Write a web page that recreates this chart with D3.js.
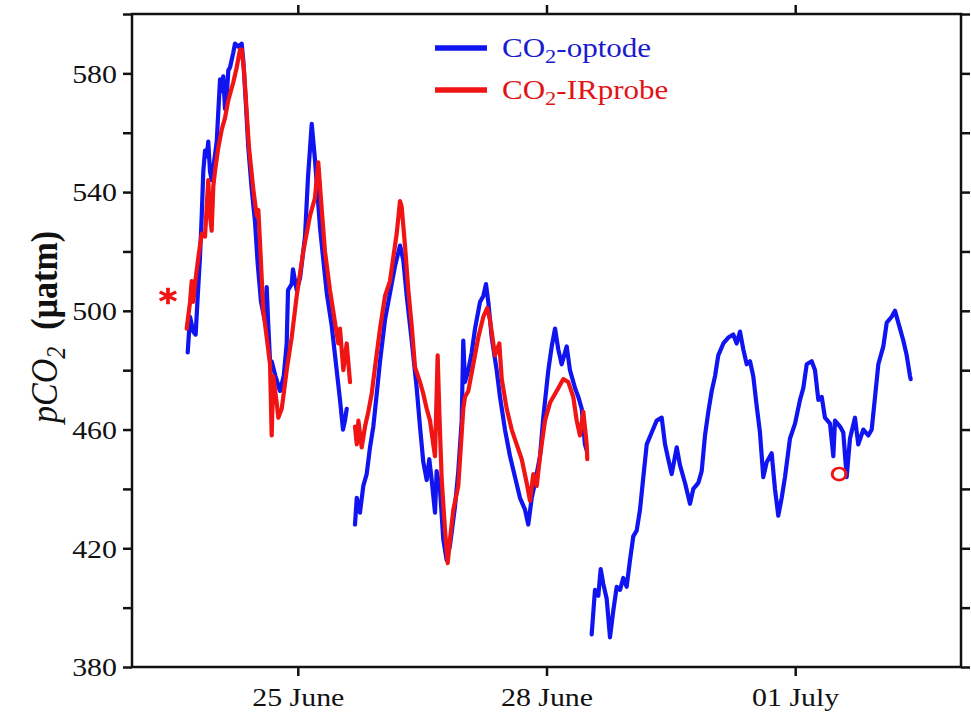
<!DOCTYPE html>
<html>
<head>
<meta charset="utf-8">
<script src="https://cdn.jsdelivr.net/npm/d3@7"></script>
<style>
  html, body { margin: 0; padding: 0; background: #fff; }
  svg { display: block; font-family: 'Liberation Serif', 'Times New Roman', serif; }
</style>
</head>
<body>
<svg id="chart" width="971" height="713"></svg>
<script>
// ---------------- DATA (day offset from 23 June 00:00 UTC, pCO2 in µatm) ----------------
const startDay = "2014-06-23";

const optodeSeg1 = [
  [0.672,486],[0.700,498],[0.739,493],[0.768,492],[0.793,505],[0.820,518],[0.841,532],[0.860,547],
  [0.881,554],[0.901,552],[0.920,557],[0.941,547],[0.961,544],[1.022,557],[1.041,567],[1.062,578],
  [1.082,574],[1.101,579],[1.122,568],[1.142,572],[1.162,581],[1.182,582],[1.222,587],[1.242,590],
  [1.282,589],[1.323,590],[1.343,584],[1.363,575],[1.403,555],[1.444,541],[1.484,530],[1.516,516],
  [1.556,503],[1.600,497],[1.625,508],[1.641,497],[1.665,483],[1.685,483],[1.730,478],[1.785,473],
  [1.830,478],[1.866,489],[1.882,507],[1.926,509],[1.942,514],[1.987,507],[2.027,511],[2.087,525],
  [2.123,545],[2.168,563],[2.207,551],[2.268,528],[2.349,506],[2.409,495],[2.469,480],[2.509,470],
  [2.545,460],[2.569,463],[2.590,467]
];
const optodeSeg2 = [
  [2.690,428],[2.711,437],[2.750,432],[2.790,441],[2.831,445],[2.871,454],[2.911,461],[2.952,472],
  [2.992,483],[3.052,497],[3.112,506],[3.172,515],[3.233,522],[3.273,517],[3.314,505],[3.374,490],
  [3.434,474],[3.474,461],[3.514,449],[3.555,443],[3.586,450],[3.615,443],[3.655,432],[3.675,446],
  [3.715,440],[3.755,423],[3.796,416],[3.836,421],[3.896,434],[3.936,446],[3.977,463],[3.996,490],
  [4.017,476],[4.057,480],[4.098,486],[4.138,494],[4.198,503],[4.238,505],[4.270,509],[4.298,503],
  [4.339,491],[4.399,480],[4.439,471],[4.499,460],[4.560,451],[4.620,444],[4.680,437],[4.741,433],
  [4.780,428],[4.822,437],[4.861,442],[4.922,451],[4.961,464],[5.022,480],[5.063,488],[5.103,494],
  [5.142,487],[5.183,482],[5.244,488],[5.283,480],[5.344,474],[5.384,471],[5.425,467],[5.464,455],
  [5.485,453]
];
const optodeSeg3 = [
  [5.545,391],[5.585,406],[5.625,404],[5.654,413],[5.685,408],[5.726,403],[5.766,390],[5.806,399],
  [5.847,407],[5.887,406],[5.926,410],[5.967,407],[6.007,416],[6.047,424],[6.088,426],[6.128,433],
  [6.168,444],[6.209,455],[6.269,459],[6.329,463],[6.390,464],[6.430,455],[6.469,450],[6.510,445],
  [6.571,454],[6.610,448],[6.671,442],[6.731,435],[6.771,440],[6.831,442],[6.872,446],[6.912,458],
  [6.952,466],[6.993,473],[7.033,478],[7.072,485],[7.133,489],[7.193,491],[7.253,492],[7.294,489],
  [7.334,493],[7.374,487],[7.415,482],[7.455,483],[7.494,478],[7.535,468],[7.575,459],[7.615,444],
  [7.656,449],[7.716,452],[7.756,440],[7.796,431],[7.837,437],[7.877,444],[7.937,457],[7.998,462],
  [8.058,470],[8.098,474],[8.139,482],[8.199,483],[8.239,480],[8.279,470],[8.320,471],[8.359,464],
  [8.420,462],[8.460,451],[8.480,463],[8.541,461],[8.580,459],[8.621,444],[8.661,457],[8.721,464],
  [8.761,455],[8.822,460],[8.882,458],[8.923,460],[8.963,471],[9.003,482],[9.063,488],[9.104,496],
  [9.164,498],[9.204,500],[9.264,494],[9.304,490],[9.345,485],[9.385,478],[9.393,477]
];
const irprobeSeg1 = [
  [0.660,494],[0.700,503],[0.720,510],[0.739,503],[0.760,509],[0.800,518],[0.841,526],[0.881,525],
  [0.901,535],[0.920,544],[0.941,532],[0.961,527],[0.981,542],[1.001,547],[1.041,555],[1.082,561],
  [1.122,565],[1.162,571],[1.222,577],[1.263,582],[1.303,588],[1.323,588],[1.351,581],[1.372,572],
  [1.411,555],[1.463,541],[1.504,532],[1.524,534],[1.544,523],[1.584,500],[1.625,491],[1.665,482],
  [1.685,458],[1.704,478],[1.745,469],[1.765,464],[1.806,467],[1.825,471],[1.866,480],[1.926,491],
  [1.987,505],[2.066,520],[2.147,532],[2.207,538],[2.247,550],[2.289,534],[2.328,520],[2.388,507],
  [2.449,496],[2.488,489],[2.509,494],[2.549,480],[2.590,489],[2.630,476]
];
const irprobeSeg2 = [
  [2.690,461],[2.711,455],[2.731,463],[2.771,454],[2.811,461],[2.851,466],[2.891,472],[2.931,481],
  [2.992,494],[3.052,505],[3.112,510],[3.152,518],[3.193,526],[3.233,537],[3.253,535],[3.293,522],
  [3.333,507],[3.374,495],[3.414,481],[3.474,476],[3.514,472],[3.555,467],[3.595,463],[3.634,455],
  [3.655,451],[3.687,485],[3.707,466],[3.736,443],[3.776,426],[3.808,415],[3.836,423],[3.876,433],
  [3.936,441],[3.996,467],[4.017,471],[4.057,473],[4.117,482],[4.177,491],[4.238,498],[4.286,501],
  [4.318,497],[4.379,485],[4.431,489],[4.460,477],[4.520,467],[4.580,460],[4.640,455],[4.701,450],
  [4.761,442],[4.801,436],[4.841,445],[4.882,441],[4.922,451],[4.982,463],[5.042,469],[5.123,473],
  [5.203,477],[5.263,476],[5.323,471],[5.364,463],[5.404,458],[5.444,466],[5.485,455],[5.492,450]
];
const asteriskPoint = [0.434, 505];   // red asterisk
const circlePoint = [8.530, 445];     // red open circle

const yTickValues = [380,400,420,440,460,480,500,520,540,560,580,600];
const yTickLabels = [380,420,460,500,540,580];
const xTickDays = ["2014-06-25","2014-06-28","2014-07-01"];
const xDomainDays = ["2014-06-23","2014-07-03"];
const yDomain = [380, 600];

const seriesNames = ["CO2-optode", "CO2-IRprobe"];
const seriesColors = ["#0f14f0", "#f01414"];

// ---------------- CHART ----------------
const W = 971, H = 713;
const margin = {left: 132, right: 10, top: 14, bottom: 46};
const svg = d3.select("#chart");
const FONT = "'Liberation Serif', 'Times New Roman', serif";

const t0 = d3.utcParse("%Y-%m-%d")(startDay).getTime();
const toDate = d => new Date(t0 + d * 864e5);
const parse = d3.utcParse("%Y-%m-%d");

const x = d3.scaleUtc().domain(xDomainDays.map(parse)).range([margin.left, W - margin.right]);
const y = d3.scaleLinear().domain(yDomain).range([H - margin.bottom, margin.top]);

const SX = 1.15;  // horizontal glyph stretch seen in the reference
const tickFont = 26;

const gL = svg.append("g").attr("transform", `translate(${margin.left},0)`)
  .call(d3.axisLeft(y).tickValues(yTickValues).tickSize(9).tickSizeOuter(0)
    .tickFormat(v => yTickLabels.includes(v) ? String(v) : ""));
const gR = svg.append("g").attr("transform", `translate(${W - margin.right},0)`)
  .call(d3.axisRight(y).tickValues(yTickValues).tickSize(9).tickSizeOuter(0).tickFormat(""));
const gB = svg.append("g").attr("transform", `translate(0,${H - margin.bottom})`)
  .call(d3.axisBottom(x).tickValues(xTickDays.map(parse)).tickSize(9).tickSizeOuter(0)
    .tickFormat(d3.utcFormat("%d %B")));
const gT = svg.append("g").attr("transform", `translate(0,${margin.top})`)
  .call(d3.axisTop(x).tickValues(xTickDays.map(parse)).tickSize(9).tickSizeOuter(0).tickFormat(""));

[gL, gR, gB, gT].forEach(g => {
  g.attr("font-family", FONT);
  g.select(".domain").remove();
  g.selectAll(".tick line").attr("stroke", "#111").attr("stroke-width", 2.5);
  g.selectAll("text").style("font-family", FONT)
    .attr("font-size", tickFont).attr("fill", "#111");
});
gL.selectAll(".tick text").attr("x", 0).attr("dy", "0.34em")
  .attr("transform", `translate(-15,0) scale(${SX},1)`);
gB.selectAll(".tick text").attr("y", 0).attr("dy", 0)
  .attr("transform", `translate(0,39) scale(${SX},1)`);

svg.append("rect")
  .attr("x", margin.left).attr("y", margin.top)
  .attr("width", W - margin.left - margin.right).attr("height", H - margin.top - margin.bottom)
  .attr("fill", "none").attr("stroke", "#111").attr("stroke-width", 2.5);

const line = d3.line().x(d => x(toDate(d[0]))).y(d => y(d[1]));
const plot = svg.append("g");
[optodeSeg1, optodeSeg2, optodeSeg3].forEach(seg => {
  plot.append("path").datum(seg).attr("d", line)
    .attr("fill", "none").attr("stroke", seriesColors[0]).attr("stroke-width", 4.2)
    .attr("stroke-linejoin", "round").attr("stroke-linecap", "round");
});
[irprobeSeg1, irprobeSeg2].forEach(seg => {
  plot.append("path").datum(seg).attr("d", line)
    .attr("fill", "none").attr("stroke", seriesColors[1]).attr("stroke-width", 4.2)
    .attr("stroke-linejoin", "round").attr("stroke-linecap", "round");
});

svg.append("path")
  .attr("d", d3.symbol(d3.symbolAsterisk, 190)())
  .attr("transform", `translate(${x(toDate(asteriskPoint[0]))},${y(asteriskPoint[1])}) scale(${SX},1)`)
  .attr("fill", "none").attr("stroke", seriesColors[1]).attr("stroke-width", 3.2);
svg.append("path")
  .attr("d", d3.symbol(d3.symbolCircle, 115)())
  .attr("transform", `translate(${x(toDate(circlePoint[0]))},${y(circlePoint[1])}) scale(${SX},1)`)
  .attr("fill", "none").attr("stroke", seriesColors[1]).attr("stroke-width", 2.6);

const legFont = 27;
const legend = svg.append("g").style("font-family", FONT);
seriesNames.forEach((name, i) => {
  const ly = 48 + i * 42;
  legend.append("line").attr("x1", 435).attr("x2", 487).attr("y1", ly).attr("y2", ly)
    .attr("stroke", seriesColors[i]).attr("stroke-width", 5.5);
  const txt = legend.append("text")
    .attr("transform", `translate(502,${ly + 9}) scale(${SX},1)`)
    .attr("font-size", legFont).attr("fill", i === 0 ? "#1a1ad0" : "#e01414");
  txt.append("tspan").text("CO");
  txt.append("tspan").attr("font-size", legFont * 0.72).attr("dy", 6).text("2");
  txt.append("tspan").attr("dy", -6).text(name.slice(3));
});

const ylab = svg.append("text").style("font-family", FONT)
  .attr("transform", `translate(57,327) scale(1.1,1) rotate(-90)`)
  .attr("text-anchor", "middle").attr("font-size", 34).attr("fill", "#111");
ylab.append("tspan").attr("font-style", "italic").text("pCO");
ylab.append("tspan").attr("font-style", "italic").attr("font-size", 24).attr("dy", 7).text("2");
ylab.append("tspan").attr("dy", -7).attr("font-weight", "bold").text("\u2002(µatm)");
</script>
</body>
</html>
